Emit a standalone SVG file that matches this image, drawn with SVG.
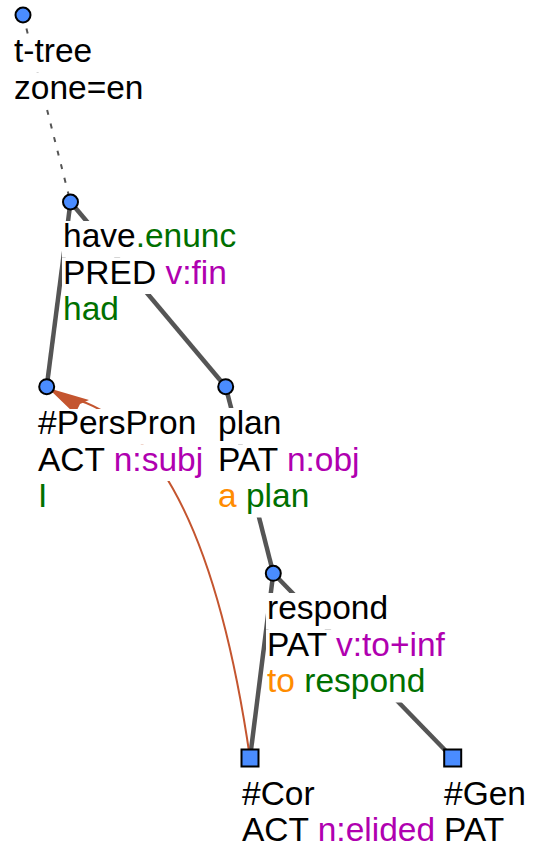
<svg xmlns="http://www.w3.org/2000/svg" width="537" height="849" viewBox="0 0 537 849">
<style>
  text { font-family: "Liberation Sans", Arial, sans-serif; font-size: 33.5px; fill: #000; }
  .bg { fill: #fff; }
  .g { fill: #007000; }
  .p { fill: #b000b0; }
  .o { fill: #ff8c00; }
  .node { fill: #4a8cff; stroke: #000; stroke-width: 2; }
  .edge { stroke: #555; stroke-width: 4.5; fill: none; stroke-linecap: butt; }
  .root { stroke: #555; stroke-width: 2; fill: none; stroke-dasharray: 5 9; }
  .coref { stroke: #c4552f; stroke-width: 2; fill: none; }
</style>
<rect width="537" height="849" fill="#fff"/>
<g id="connectors">
  <line class="root" x1="23" y1="15" x2="70.5" y2="202"/>
  <line class="edge" x1="70.5" y1="202" x2="46.7" y2="386.7"/>
  <line class="edge" x1="70.5" y1="202" x2="225.7" y2="386.7"/>
  <line class="edge" x1="225.7" y1="386.7" x2="273.3" y2="573.3"/>
  <line class="edge" x1="273.3" y1="573.3" x2="250" y2="758"/>
  <line class="edge" x1="273.3" y1="573.3" x2="452.7" y2="758"/>
  <path class="coref" d="M250,758 Q204,441 78,400"/>
  <polygon fill="#c4552f" points="48,388 89,400 80,404 75,414"/>
</g>
<g id="n-ttree">
  <rect class="bg" x="13" y="36" width="80" height="36.5"/>
  <rect class="bg" x="13" y="72.5" width="132" height="36.5"/>
  <text x="14" y="62">t-tree</text>
  <text x="14" y="98.5">zone=en</text>
  <circle class="node" cx="23" cy="15" r="7.5"/>
</g>
<g id="n-have">
  <rect class="bg" x="62" y="221" width="176" height="36.5"/>
  <rect class="bg" x="62" y="257.5" width="167" height="36.5"/>
  <rect class="bg" x="62" y="294" width="58" height="36.5"/>
  <text x="63" y="247">have<tspan class="g">.enunc</tspan></text>
  <text x="63" y="283.5">PRED <tspan class="p">v:fin</tspan></text>
  <text x="63" y="320" class="g">had</text>
  <circle class="node" cx="70.5" cy="202" r="7.5"/>
</g>
<g id="n-perspron">
  <rect class="bg" x="37" y="409" width="161" height="35.5"/>
  <rect class="bg" x="37" y="444.5" width="169" height="36.5"/>
  <rect class="bg" x="37" y="481" width="11" height="36.5"/>
  <text x="38" y="434">#PersPron</text>
  <text x="38" y="470.5">ACT <tspan class="p">n:subj</tspan></text>
  <text x="38" y="507" class="g">I</text>
  <circle class="node" cx="46.7" cy="386.7" r="7.5"/>
</g>
<g id="n-plan">
  <rect class="bg" x="217" y="408" width="65" height="36.5"/>
  <rect class="bg" x="217" y="444.5" width="150" height="36.5"/>
  <rect class="bg" x="217" y="481" width="94" height="36.5"/>
  <text x="218" y="434">plan</text>
  <text x="218" y="470.5">PAT <tspan class="p">n:obj</tspan></text>
  <text x="218" y="507"><tspan class="o">a</tspan> <tspan class="g">plan</tspan></text>
  <circle class="node" cx="225.7" cy="386.7" r="7.5"/>
</g>
<g id="n-respond">
  <rect class="bg" x="266" y="593" width="123" height="36.5"/>
  <rect class="bg" x="266" y="629.5" width="186" height="36.5"/>
  <rect class="bg" x="266" y="666" width="161" height="36.5"/>
  <text x="267" y="619">respond</text>
  <text x="267" y="655.5">PAT <tspan class="p">v:to+inf</tspan></text>
  <text x="267" y="692"><tspan class="o">to</tspan> <tspan class="g">respond</tspan></text>
  <circle class="node" cx="273.3" cy="573.3" r="7.5"/>
</g>
<g id="n-cor">
  <rect class="bg" x="241" y="779" width="75" height="36.5"/>
  <rect class="bg" x="241" y="815.5" width="196" height="36.5"/>
  <text x="242" y="805">#Cor</text>
  <text x="242" y="841">ACT <tspan class="p">n:elided</tspan></text>
  <rect class="node" x="241.5" y="749.5" width="17" height="17"/>
</g>
<g id="n-gen">
  <rect class="bg" x="443" y="779" width="84" height="36.5"/>
  <rect class="bg" x="443" y="815.5" width="68" height="36.5"/>
  <text x="444" y="805">#Gen</text>
  <text x="444" y="841">PAT</text>
  <rect class="node" x="444.2" y="749.5" width="17" height="17"/>
</g>
</svg>
